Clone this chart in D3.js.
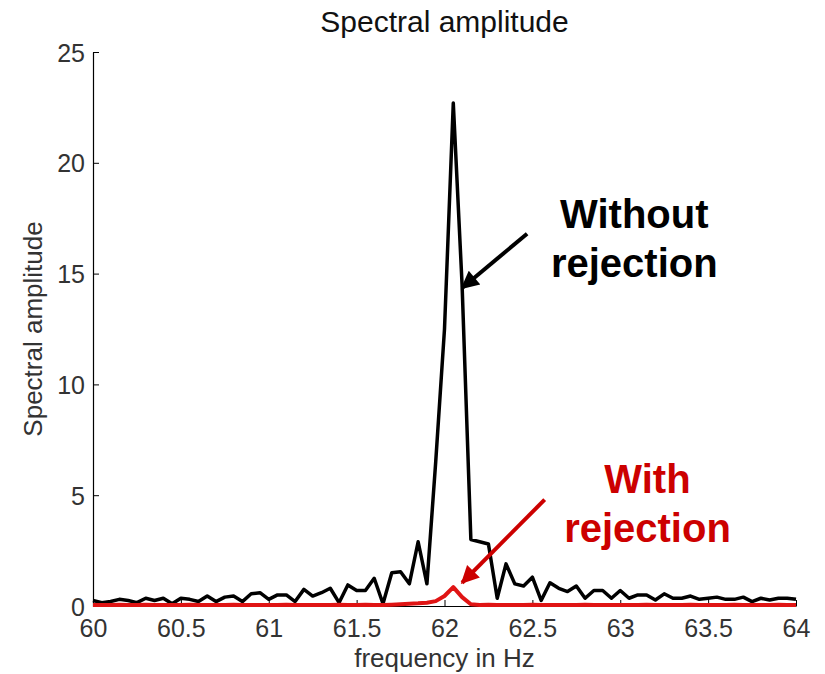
<!DOCTYPE html>
<html>
<head>
<meta charset="utf-8">
<script src="https://cdn.jsdelivr.net/npm/d3@7"></script>
<style>
  body { margin: 0; background: #fff; }
  text { font-family: Arial, "Liberation Sans", sans-serif; }
</style>
</head>
<body>
<div id="chart"></div>
<script>
'use strict';

// frequency bins (Hz)
var freqs = [
    60.00, 60.05, 60.10, 60.15, 60.20, 60.25, 60.30, 60.35, 60.40, 60.45,
    60.50, 60.55, 60.60, 60.65, 60.70, 60.75, 60.80, 60.85, 60.90, 60.95,
    61.00, 61.05, 61.10, 61.15, 61.20, 61.25, 61.30, 61.35, 61.40, 61.45,
    61.50, 61.55, 61.60, 61.65, 61.70, 61.75, 61.80, 61.85, 61.90, 61.95,
    62.00, 62.05, 62.10, 62.15, 62.20, 62.25, 62.30, 62.35, 62.40, 62.45,
    62.50, 62.55, 62.60, 62.65, 62.70, 62.75, 62.80, 62.85, 62.90, 62.95,
    63.00, 63.05, 63.10, 63.15, 63.20, 63.25, 63.30, 63.35, 63.40, 63.45,
    63.50, 63.55, 63.60, 63.65, 63.70, 63.75, 63.80, 63.85, 63.90, 63.95,
    64.00
];

var withoutRejection = [
    0.25, 0.15, 0.20, 0.30, 0.25, 0.15, 0.35, 0.25, 0.35, 0.10,
    0.35, 0.30, 0.20, 0.45, 0.20, 0.40, 0.45, 0.20, 0.55, 0.60,
    0.30, 0.50, 0.50, 0.20, 0.75, 0.45, 0.60, 0.80, 0.15, 0.95,
    0.70, 0.70, 1.25, 0.10, 1.50, 1.55, 1.00, 2.90, 1.00, 6.50,
    12.5, 22.7, 14.5, 3.00, 2.90, 2.80, 0.35, 1.90, 1.00, 0.90,
    1.30, 0.25, 1.05, 0.80, 0.65, 0.90, 0.35, 0.70, 0.70, 0.35,
    0.70, 0.35, 0.50, 0.50, 0.27, 0.55, 0.35, 0.35, 0.45, 0.30,
    0.35, 0.40, 0.30, 0.30, 0.40, 0.20, 0.35, 0.27, 0.35, 0.35,
    0.30
];

var withRejection = [
    0.05, 0.04, 0.05, 0.06, 0.04, 0.05, 0.06, 0.04, 0.05, 0.04,
    0.05, 0.06, 0.04, 0.05, 0.05, 0.04, 0.06, 0.05, 0.04, 0.05,
    0.05, 0.04, 0.06, 0.05, 0.04, 0.05, 0.05, 0.04, 0.06, 0.05,
    0.05, 0.06, 0.05, 0.04, 0.06, 0.08, 0.10, 0.12, 0.15, 0.22,
    0.45, 0.85, 0.40, 0.08, 0.05, 0.06, 0.05, 0.04, 0.05, 0.05,
    0.06, 0.04, 0.05, 0.05, 0.04, 0.05, 0.06, 0.05, 0.04, 0.05,
    0.05, 0.04, 0.05, 0.06, 0.05, 0.04, 0.05, 0.05, 0.06, 0.04,
    0.05, 0.05, 0.04, 0.06, 0.05, 0.05, 0.04, 0.05, 0.06, 0.05,
    0.05
];

var xTicks = [60, 60.5, 61, 61.5, 62, 62.5, 63, 63.5, 64];
var yTicks = [0, 5, 10, 15, 20, 25];

// annotations, in data units
var notes = [
    {lines: ["Without", "rejection"], x: 63.08, y: 17.05, color: "#000000",
     arrow: {x1: 62.47, y1: 16.8, x2: 62.10, y2: 14.35}},
    {lines: ["With", "rejection"], x: 63.155, y: 5.1, color: "#cc0000",
     arrow: {x1: 62.57, y1: 4.8, x2: 62.10, y2: 1.05}}
];

var width = 825, height = 674;
var margin = {left: 93, right: 29, top: 52, bottom: 68};

var svg = d3.select("#chart")
    .append("svg")
    .attr("width", width)
    .attr("height", height);

var x = d3.scaleLinear().domain([60, 64]).range([margin.left, width - margin.right]);
var y = d3.scaleLinear().domain([0, 25]).range([height - margin.bottom, margin.top]);

// axes (ticks drawn inward like matlab)
var xAxis = svg.append("g")
    .attr("transform", "translate(0," + y(0) + ")")
    .call(d3.axisBottom(x).tickValues(xTicks).tickSizeInner(-6).tickSizeOuter(0)
        .tickFormat(function (d) { return d; }));
var yAxis = svg.append("g")
    .attr("transform", "translate(" + x(60) + ",0)")
    .call(d3.axisLeft(y).tickValues(yTicks).tickSizeInner(-6).tickSizeOuter(0));

[xAxis, yAxis].forEach(function (g) {
    g.select(".domain").attr("stroke", "#000").attr("stroke-width", 1.2);
    g.selectAll(".tick line").attr("stroke", "#000").attr("stroke-width", 1);
    g.selectAll(".tick text")
        .attr("fill", "#333")
        .style("font-size", "25px")
        .style("font-family", "Arial, 'Liberation Sans', sans-serif");
});
xAxis.selectAll(".tick text").attr("dy", 0).attr("y", 31);
yAxis.selectAll(".tick text").attr("x", -8).attr("dy", "0.36em");

// series
var line = d3.line()
    .x(function (d) { return x(d[0]); })
    .y(function (d) { return y(d[1]); });

svg.append("path")
    .datum(d3.zip(freqs, withoutRejection))
    .attr("d", line)
    .attr("fill", "none")
    .attr("stroke", "#000")
    .attr("stroke-width", 3.5)
    .attr("stroke-linejoin", "round");

svg.append("path")
    .datum(d3.zip(freqs, withRejection))
    .attr("d", line)
    .attr("fill", "none")
    .attr("stroke", "#e01414")
    .attr("stroke-width", 4)
    .attr("stroke-linejoin", "round");

// titles
svg.append("text")
    .attr("x", (x(60) + x(64)) / 2)
    .attr("y", 32)
    .attr("text-anchor", "middle")
    .style("font-size", "30px")
    .attr("fill", "#111")
    .text("Spectral amplitude");

svg.append("text")
    .attr("x", (x(60) + x(64)) / 2)
    .attr("y", 667)
    .attr("text-anchor", "middle")
    .style("font-size", "26px")
    .attr("fill", "#333")
    .text("frequency in Hz");

svg.append("text")
    .attr("transform", "translate(42," + ((y(0) + y(25)) / 2) + ") rotate(-90)")
    .attr("text-anchor", "middle")
    .style("font-size", "26px")
    .attr("fill", "#333")
    .text("Spectral amplitude");

// arrow markers
var defs = svg.append("defs");
notes.forEach(function (n, i) {
    defs.append("marker")
        .attr("id", "head" + i)
        .attr("viewBox", "0 0 10 10")
        .attr("refX", 9)
        .attr("refY", 5)
        .attr("markerWidth", 5.5)
        .attr("markerHeight", 4.5)
        .attr("markerUnits", "strokeWidth")
        .attr("orient", "auto")
        .append("path")
        .attr("d", "M0,0 L10,5 L0,10 Z")
        .attr("fill", n.color);
});

notes.forEach(function (n, i) {
    svg.append("line")
        .attr("x1", x(n.arrow.x1))
        .attr("y1", y(n.arrow.y1))
        .attr("x2", x(n.arrow.x2))
        .attr("y2", y(n.arrow.y2))
        .attr("stroke", n.color)
        .attr("stroke-width", 4)
        .attr("marker-end", "url(#head" + i + ")");

    var t = svg.append("text")
        .attr("text-anchor", "middle")
        .attr("fill", n.color)
        .style("font-size", "40px")
        .style("font-weight", "bold");
    n.lines.forEach(function (s, k) {
        t.append("tspan")
            .attr("x", x(n.x))
            .attr("y", y(n.y) + k * 49)
            .text(s);
    });
});
</script>
</body>
</html>
